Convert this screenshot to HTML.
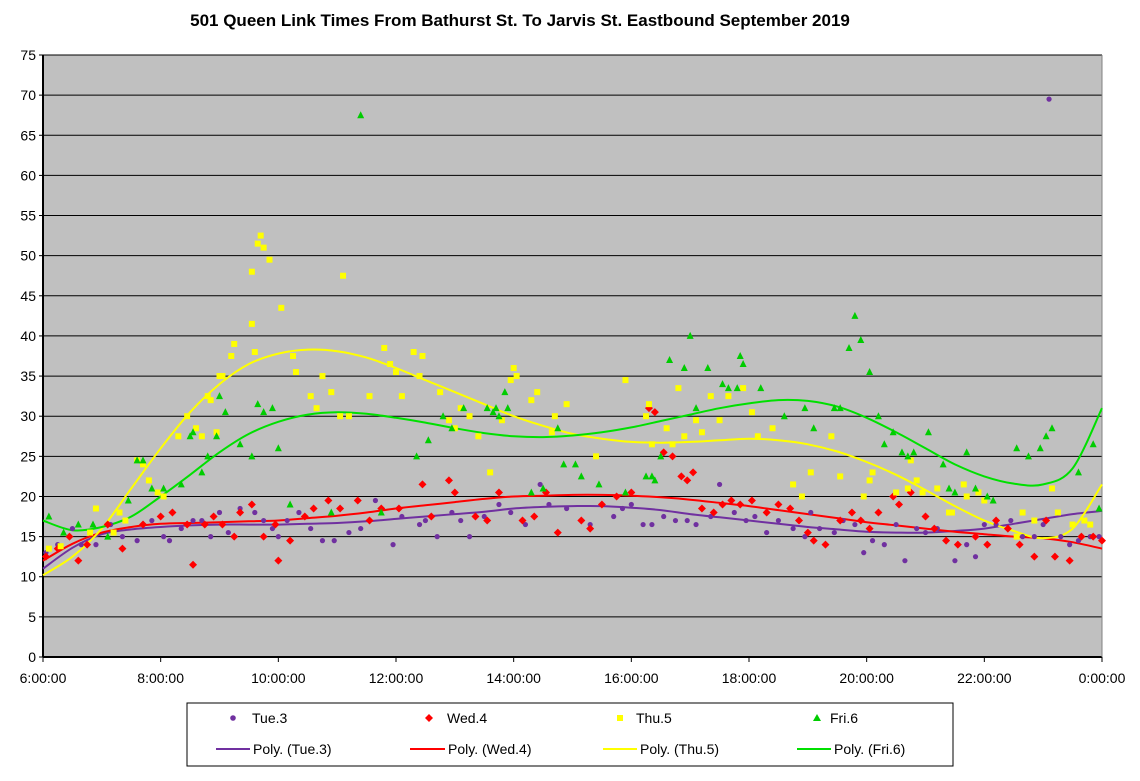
<!DOCTYPE html>
<html><head><meta charset="utf-8"><style>
body{margin:0;background:#fff;}
svg text{font-family:"Liberation Sans",Arial,sans-serif;}
</style></head><body>
<svg id="chart" width="1140" height="776" xmlns="http://www.w3.org/2000/svg">
<rect x="0" y="0" width="1140" height="776" fill="#fff"/>
<text x="520" y="26" text-anchor="middle" font-size="17" font-weight="bold">501 Queen Link Times From Bathurst St. To Jarvis St. Eastbound September 2019</text>
<rect x="43" y="55" width="1059" height="602" fill="#c0c0c0"/>
<g id="grid"></g><g id="axes"></g><g id="trends"></g><g id="marks"></g>
<g>
<rect x="187" y="703" width="766" height="63" fill="#fff" stroke="#000" stroke-width="1"/>
<circle cx="233" cy="718" r="2.8" fill="#7030A0"/>
<text x="252" y="723" font-size="14">Tue.3</text>
<path d="M429,714 L433,718 L429,722 L425,718Z" fill="#FF0000"/>
<text x="447" y="723" font-size="14">Wed.4</text>
<rect x="617" y="715" width="6" height="6" fill="#FFFF00"/>
<text x="636" y="723" font-size="14">Thu.5</text>
<path d="M817,714 L821,721 L813,721Z" fill="#00CC00"/>
<text x="830" y="723" font-size="14">Fri.6</text>
<line x1="216" y1="749" x2="250" y2="749" stroke="#7030A0" stroke-width="2"/>
<text x="253" y="754" font-size="14">Poly. (Tue.3)</text>
<line x1="410" y1="749" x2="445" y2="749" stroke="#FF0000" stroke-width="2"/>
<text x="448" y="754" font-size="14">Poly. (Wed.4)</text>
<line x1="603" y1="749" x2="637" y2="749" stroke="#FFFF00" stroke-width="2"/>
<text x="640" y="754" font-size="14">Poly. (Thu.5)</text>
<line x1="797" y1="749" x2="831" y2="749" stroke="#00E000" stroke-width="2"/>
<text x="834" y="754" font-size="14">Poly. (Fri.6)</text>
</g>
</svg>
<script>
const yTicks=[0,5,10,15,20,25,30,35,40,45,50,55,60,65,70,75];
const xTicks=[6,8,10,12,14,16,18,20,22,24];
const xTickLabels=["6:00:00","8:00:00","10:00:00","12:00:00","14:00:00","16:00:00","18:00:00","20:00:00","22:00:00","0:00:00"];
const tueT=[6.05,6.25,6.5,6.65,6.9,7.15,7.35,7.6,7.85,8.05,8.15,8.35,8.55,8.7,8.85,9.0,9.15,9.35,9.6,9.75,9.9,10.0,10.15,10.35,10.55,10.75,10.95,11.2,11.4,11.65,11.95,12.1,12.4,12.5,12.7,12.95,13.1,13.25,13.5,13.75,13.95,14.2,14.45,14.6,14.9,15.3,15.7,15.85,16.0,16.2,16.35,16.55,16.75,16.95,17.1,17.35,17.5,17.75,17.95,18.1,18.3,18.5,18.75,18.95,19.05,19.2,19.45,19.6,19.8,19.95,20.1,20.3,20.5,20.65,20.85,21.0,21.2,21.5,21.7,21.85,22.0,22.2,22.45,22.65,22.85,23.0,23.1,23.3,23.45,23.6,23.8,23.95];
const tueV=[13,14,16,14,14,16.5,15,14.5,17,15,14.5,16,17,17,15,18,15.5,18.5,18,17,16,15,17,18,16,14.5,14.5,15.5,16,19.5,14,17.5,16.5,17,15,18,17,15,17.5,19,18,16.5,21.5,19,18.5,16.5,17.5,18.5,19,16.5,16.5,17.5,17,17,16.5,17.5,21.5,18,17,17.5,15.5,17,16,15,18,16,15.5,17,16.5,13,14.5,14,16.5,12,16,15.5,16,12,14,12.5,16.5,16.5,17,15,15,16.5,69.5,15,14,14.5,15,15];
const wedT=[6.05,6.25,6.45,6.6,6.75,7.1,7.35,7.7,8.0,8.2,8.45,8.55,8.75,8.9,9.05,9.25,9.35,9.55,9.75,9.95,10.0,10.2,10.45,10.6,10.85,11.05,11.35,11.55,11.75,12.05,12.45,12.6,12.9,13.0,13.35,13.55,13.75,14.15,14.35,14.55,14.75,15.15,15.3,15.5,15.75,16.0,16.3,16.4,16.55,16.7,16.85,16.95,17.05,17.2,17.4,17.55,17.7,17.85,18.05,18.3,18.5,18.7,18.85,19.0,19.1,19.3,19.55,19.75,19.9,20.05,20.2,20.45,20.55,20.75,21.0,21.15,21.35,21.55,21.85,22.05,22.2,22.4,22.6,22.85,23.05,23.2,23.45,23.65,23.85,24.0];
const wedV=[12.5,13.5,15,12,14,16.5,13.5,16.5,17.5,18,16.5,11.5,16.5,17.5,16.5,15,18,19,15,16.5,12,14.5,17.5,18.5,19.5,18.5,19.5,17,18.5,18.5,21.5,17.5,22,20.5,17.5,17,20.5,17,17.5,20.5,15.5,17,16,19,20,20.5,31,30.5,25.5,25,22.5,22,23,18.5,18,19,19.5,19,19.5,18,19,18.5,17,15.5,14.5,14,17,18,17,16,18,20,19,20.5,17.5,16,14.5,14,15,14,17,16,14,12.5,17,12.5,12,15,15,14.5];
const thuT=[6.1,6.3,6.8,6.9,7.2,7.3,7.4,7.6,7.7,7.8,7.95,8.05,8.3,8.45,8.6,8.7,8.8,8.85,8.95,9.0,9.05,9.2,9.25,9.55,9.55,9.6,9.65,9.7,9.75,9.85,10.05,10.25,10.3,10.55,10.65,10.75,10.9,11.05,11.1,11.2,11.55,11.8,11.9,12.0,12.1,12.3,12.4,12.45,12.75,12.9,13.0,13.1,13.25,13.4,13.6,13.8,13.95,14.0,14.05,14.3,14.4,14.65,14.7,14.9,15.4,15.9,16.25,16.3,16.35,16.6,16.7,16.8,16.9,17.1,17.2,17.35,17.5,17.65,17.9,18.05,18.15,18.4,18.75,18.9,19.05,19.4,19.55,19.95,20.05,20.1,20.5,20.7,20.75,20.85,20.95,21.2,21.4,21.45,21.65,21.7,21.9,22.0,22.55,22.65,22.85,23.15,23.25,23.5,23.7,23.8];
const thuV=[13.5,13.8,15.5,18.5,15.5,18,17,24.5,24,22,20.5,20,27.5,30,28.5,27.5,32.5,32,28,35,35,37.5,39,41.5,48,38,51.5,52.5,51,49.5,43.5,37.5,35.5,32.5,31,35,33,30,47.5,30,32.5,38.5,36.5,35.5,32.5,38,35,37.5,33,29.5,28.5,31,30,27.5,23,29.5,34.5,36,35,32,33,28,30,31.5,25,34.5,30,31.5,26.5,28.5,26.5,33.5,27.5,29.5,28,32.5,29.5,32.5,33.5,30.5,27.5,28.5,21.5,20,23,27.5,22.5,20,22,23,20.5,21,24.5,22,20.5,21,18,18,21.5,20,20.5,19.5,15,18,17,21,18,16.5,17,16.5];
const friT=[6.1,6.35,6.6,6.85,7.1,7.45,7.6,7.7,7.85,8.05,8.35,8.5,8.55,8.7,8.8,8.95,9.0,9.1,9.35,9.55,9.65,9.75,9.9,10.0,10.2,10.9,11.4,11.75,12.35,12.55,12.8,12.95,13.15,13.55,13.65,13.7,13.75,13.85,13.9,14.3,14.5,14.75,14.85,15.05,15.15,15.45,15.9,16.25,16.35,16.4,16.5,16.65,16.9,17.0,17.1,17.3,17.55,17.65,17.8,17.85,17.9,18.2,18.6,18.95,19.1,19.45,19.55,19.7,19.8,19.9,20.05,20.2,20.3,20.45,20.6,20.7,20.8,21.05,21.3,21.4,21.5,21.7,21.85,22.05,22.15,22.55,22.75,22.95,23.05,23.15,23.6,23.85,23.95];
const friV=[17.5,15.5,16.5,16.5,15,19.5,24.5,24.5,21,21,21.5,27.5,28,23,25,27.5,32.5,30.5,26.5,25,31.5,30.5,31,26,19,18,67.5,18,25,27,30,28.5,31,31,30.5,31,30,33,31,20.5,21,28.5,24,24,22.5,21.5,20.5,22.5,22.5,22,25,37,36,40,31,36,34,33.5,33.5,37.5,36.5,33.5,30,31,28.5,31,31,38.5,42.5,39.5,35.5,30,26.5,28,25.5,25,25.5,28,24,21,20.5,25.5,21,20,19.5,26,25,26,27.5,28.5,23,26.5,18.5];
const trendT=[6,6.5,7,7.5,8,8.5,9,9.5,10,10.5,11,11.5,12,12.5,13,13.5,14,14.5,15,15.5,16,16.5,17,17.5,18,18.5,19,19.5,20,20.5,21,21.5,22,22.5,23,23.5,24];
const tueTrend=[11,13.6,15.3,15.9,16.2,16.4,16.5,16.5,16.5,16.6,16.7,16.9,17.2,17.5,17.8,18.1,18.5,18.7,18.8,18.8,18.6,18.3,17.8,17.4,17,16.6,16.2,15.9,15.6,15.5,15.5,15.7,16,16.6,17.2,17.8,18.2];
const wedTrend=[12,14.1,15.5,16.2,16.6,16.7,16.8,16.9,17,17.3,17.6,18,18.5,18.9,19.3,19.7,20,20.1,20.2,20.2,20.1,19.9,19.6,19.2,18.8,18.3,17.8,17.3,16.8,16.4,16,15.6,15.3,15,14.8,14.3,13.5];
const thuTrend=[10.2,12.5,16,21,26,30.5,34,36.5,37.8,38.3,38.1,37.3,36,34.5,33,31.5,30,28.8,27.8,27.2,26.8,26.7,26.8,27,27.2,27,26.5,25.6,24.3,22.7,20.8,18.8,17,15.7,14.8,16,21.5];
const friTrend=[17,15.8,16.2,17.5,20,22.7,25.5,27.8,29.3,30.2,30.5,30.3,29.8,29.2,28.5,27.9,27.5,27.4,27.6,28,28.6,29.4,30.2,31,31.6,32,31.9,31.2,29.8,28,26,24,22.5,21.6,21.5,23.5,31];

const NS="http://www.w3.org/2000/svg";
const X0=43,X1=1102,Y0=657,Y1=55;
function sx(h){return X0+(h-6)/18*(X1-X0);}
function sy(v){return Y0-v/75*(Y0-Y1);}
function mk(tag,attrs,parent){const e=document.createElementNS(NS,tag);for(const k in attrs)e.setAttribute(k,attrs[k]);parent.appendChild(e);return e;}
const grid=document.getElementById('grid'),axes=document.getElementById('axes'),trends=document.getElementById('trends'),marks=document.getElementById('marks');
yTicks.forEach(v=>{
  if(v>0){const l=mk('line',{x1:X0,x2:X1,y1:sy(v),y2:sy(v),stroke:'#000','stroke-width':1},grid);
  
  }
  const t=mk('text',{x:36,y:sy(v)+5,'text-anchor':'end','font-size':14},axes);t.textContent=v;
  
  
  mk('line',{x1:X0-4,x2:X0,y1:sy(v),y2:sy(v),stroke:'#000'},axes);
});
xTicks.forEach((h,i)=>{
  mk('line',{x1:sx(h),x2:sx(h),y1:Y0,y2:Y0+5,stroke:'#000'},axes);
  const t=mk('text',{x:sx(h),y:683,'text-anchor':'middle','font-size':14},axes);t.textContent=xTickLabels[i];
  
  
});
const ya=mk('line',{x1:X0,x2:X0,y1:Y1,y2:Y0,stroke:'#000','stroke-width':2},axes);


const xa=mk('line',{x1:X0,x2:X1,y1:Y0,y2:Y0,stroke:'#000','stroke-width':2},axes);


mk('line',{x1:X1,x2:X1,y1:Y1,y2:Y0,stroke:'#808080','stroke-width':1},axes);

function trend(vals,color,name){
  const P=trendT.map((h,i)=>[sx(h),sy(vals[i])]);
  let d='M'+P[0][0].toFixed(1)+','+P[0][1].toFixed(1);
  for(let i=0;i<P.length-1;i++){
    const p0=P[Math.max(0,i-1)],p1=P[i],p2=P[i+1],p3=P[Math.min(P.length-1,i+2)];
    const c1=[p1[0]+(p2[0]-p0[0])/6,p1[1]+(p2[1]-p0[1])/6];
    const c2=[p2[0]-(p3[0]-p1[0])/6,p2[1]-(p3[1]-p1[1])/6];
    d+='C'+c1[0].toFixed(1)+','+c1[1].toFixed(1)+' '+c2[0].toFixed(1)+','+c2[1].toFixed(1)+' '+p2[0].toFixed(1)+','+p2[1].toFixed(1);
  }
  const p=mk('path',{d:d,fill:'none',stroke:color,'stroke-width':2,'stroke-linejoin':'round'},trends);
  
  
}
trend(tueTrend,'#7030A0','trend-tue');
trend(wedTrend,'#FF0000','trend-wed');
trend(thuTrend,'#FFFF00','trend-thu');
trend(friTrend,'#00E000','trend-fri');

tueT.forEach((h,i)=>{const x=sx(h),y=sy(tueV[i]);
  const e=mk('circle',{cx:x,cy:y,r:2.6,fill:'#7030A0'},marks);
  
  });
wedT.forEach((h,i)=>{const x=sx(h),y=sy(wedV[i]);
  const e=mk('path',{d:`M${x},${y-4}L${x+4},${y}L${x},${y+4}L${x-4},${y}Z`,fill:'#FF0000'},marks);
  
  });
thuT.forEach((h,i)=>{const x=sx(h),y=sy(thuV[i]);
  const e=mk('rect',{x:x-3,y:y-3,width:6,height:6,fill:'#FFFF00'},marks);
  
  });
friT.forEach((h,i)=>{const x=sx(h),y=sy(friV[i]);
  const e=mk('path',{d:`M${x},${y-4}L${x+3.5},${y+3}L${x-3.5},${y+3}Z`,fill:'#00CC00'},marks);
  
  });
</script>
</body></html>
